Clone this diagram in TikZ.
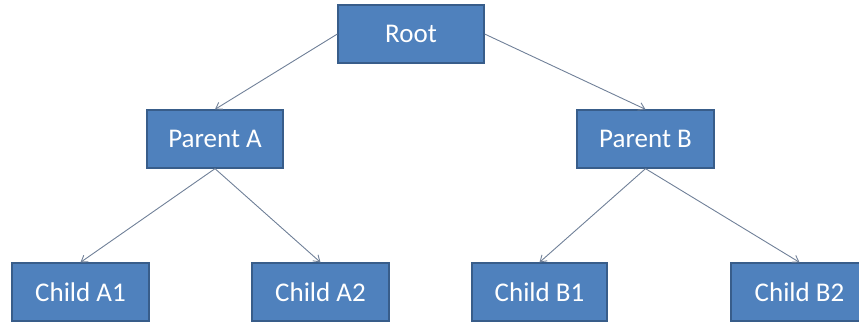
\documentclass[tikz,border=0pt]{standalone}
\usepackage{fontspec}
\setmainfont{Carlito}
\usetikzlibrary{arrows.meta}
\definecolor{boxfill}{RGB}{79,129,189}
\definecolor{boxborder}{RGB}{56,93,138}
\definecolor{conn}{RGB}{112,128,152}
\begin{document}
\begin{tikzpicture}[x=1pt,y=-1pt,
  box/.style={draw=boxborder, fill=boxfill, line width=1.3pt, text=white,
    font=\fontsize{27}{30}\selectfont, minimum height=58pt, inner sep=0pt},
  link/.style={draw=conn, line width=0.9pt, -{Straight Barb[length=6pt,width=8pt]}}]
\useasboundingbox (0,0) rectangle (859,322);
\clip (0,0) rectangle (859,322);
\node[box, minimum width=146pt] (root) at (411,34) {Root};
\node[box, minimum width=136pt] (pa) at (215,139) {Parent A};
\node[box, minimum width=137pt] (pb) at (645.5,139) {Parent B};
\node[box, minimum width=137pt] (a1) at (80.5,292) {Child A1};
\node[box, minimum width=137pt] (a2) at (320.5,292) {Child A2};
\node[box, minimum width=135pt] (b1) at (539.5,292) {Child B1};
\node[box, minimum width=137pt] (b2) at (799.5,292) {Child B2};
\draw[link] (root.west) -- (pa.north);
\draw[link] (root.east) -- (pb.north);
\draw[link] (pa.south) -- (a1.north);
\draw[link] (pa.south) -- (a2.north);
\draw[link] (pb.south) -- (b1.north);
\draw[link] (pb.south) -- (b2.north);
\end{tikzpicture}
\end{document}
